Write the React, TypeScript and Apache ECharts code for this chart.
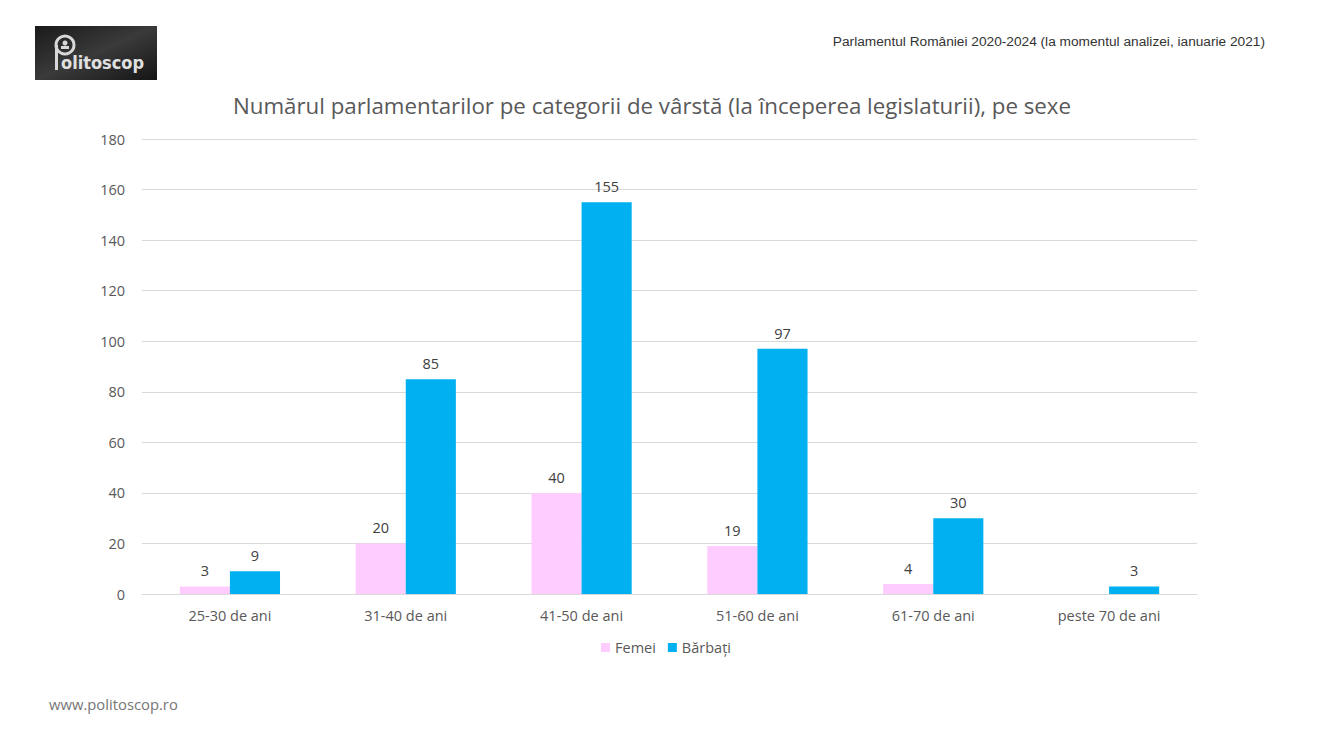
import React, { useEffect, useRef } from "react";
import * as echarts from "echarts";

const categories = ["25-30 de ani", "31-40 de ani", "41-50 de ani", "51-60 de ani", "61-70 de ani", "peste 70 de ani"];
const femei: (number | null)[] = [3, 20, 40, 19, 4, null];
const barbati: number[] = [9, 85, 155, 97, 30, 3];
const yTicks = { min: 0, max: 180, interval: 20 };

const FONT = "'Open Sans', 'Noto Sans', sans-serif";

export default function App() {
  const ref = useRef<HTMLDivElement>(null);
  useEffect(() => {
    document.body.style.margin = "0";
    const chart = echarts.init(ref.current!, null, { renderer: "svg" });
    chart.setOption({
      animation: false,
      backgroundColor: "#ffffff",
      title: {
        text: "Numărul parlamentarilor pe categorii de vârstă (la începerea legislaturii), pe sexe",
        left: 228,
        top: 89,
        textStyle: { fontFamily: FONT, fontSize: 22.3, fontWeight: "normal", color: "#595959" },
      },
      legend: {
        data: ["Femei", "Bărbați"],
        bottom: 90,
        left: "center",
        itemWidth: 9,
        itemHeight: 9,
        itemGap: 12,
        icon: "rect",
        textStyle: { fontFamily: FONT, fontSize: 14.5, color: "#595959" },
      },
      grid: { left: 142, right: 135, top: 139, bottom: 156, containLabel: false },
      xAxis: {
        type: "category",
        data: categories,
        axisTick: { show: false },
        axisLine: { lineStyle: { color: "#d9d9d9" } },
        axisLabel: { fontFamily: FONT, fontSize: 14.5, color: "#595959", margin: 14 },
      },
      yAxis: {
        type: "value",
        min: yTicks.min,
        max: yTicks.max,
        interval: yTicks.interval,
        axisLine: { show: false },
        axisTick: { show: false },
        splitLine: { lineStyle: { color: "#d9d9d9" } },
        axisLabel: { fontFamily: FONT, fontSize: 14.5, color: "#595959", margin: 17 },
      },
      series: [
        {
          name: "Femei",
          type: "bar",
          data: femei,
          barGap: "0%",
          barCategoryGap: "43%",
          itemStyle: { color: "#FFCCFF" },
          label: { show: true, position: "top", distance: 8, fontFamily: FONT, fontSize: 14.5, color: "#404040" },
        },
        {
          name: "Bărbați",
          type: "bar",
          data: barbati,
          barGap: "0%",
          barCategoryGap: "43%",
          itemStyle: { color: "#00B0F0" },
          label: { show: true, position: "top", distance: 8, fontFamily: FONT, fontSize: 14.5, color: "#404040" },
        },
      ],
      graphic: [
        {
          type: "group",
          left: 35,
          top: 26,
          children: [
            {
              type: "rect",
              shape: { x: 0, y: 0, width: 122, height: 54 },
              style: {
                fill: new echarts.graphic.LinearGradient(0, 0, 1, 1, [
                  { offset: 0, color: "#1a1a1a" },
                  { offset: 0.5, color: "#3a3a3a" },
                  { offset: 1, color: "#151515" },
                ]),
              },
            },
            { type: "circle", shape: { cx: 30, cy: 19, r: 9 }, style: { fill: "none", stroke: "#d8d8d8", lineWidth: 3 } },
            { type: "circle", shape: { cx: 30, cy: 17, r: 2.5 }, style: { fill: "#d8d8d8" } },
            { type: "rect", shape: { x: 26, y: 20, width: 8, height: 3 }, style: { fill: "#d8d8d8" } },
            { type: "rect", shape: { x: 20, y: 19, width: 3, height: 25 }, style: { fill: "#d8d8d8" } },
            {
              type: "text",
              x: 26,
              y: 36,
              style: {
                text: "olitoscop",
                fontFamily: "'DejaVu Sans Condensed', 'Liberation Sans Narrow', sans-serif",
                fontSize: 18,
                fontWeight: "bold",
                fill: "#e0e0e0",
                verticalAlign: "middle",
              },
            },
          ],
        },
        {
          type: "text",
          right: 67,
          top: 34,
          style: {
            text: "Parlamentul României 2020-2024 (la momentul analizei, ianuarie 2021)",
            fontFamily: "'Liberation Sans', Arial, sans-serif",
            fontSize: 13.7,
            fill: "#333333",
          },
        },
        {
          type: "text",
          left: 49,
          top: 696,
          style: {
            text: "www.politoscop.ro",
            fontFamily: FONT,
            fontSize: 14.8,
            fill: "#767676",
          },
        },
      ],
    });
    return () => chart.dispose();
  }, []);
  return <div ref={ref} style={{ width: 1332, height: 750 }} />;
}
